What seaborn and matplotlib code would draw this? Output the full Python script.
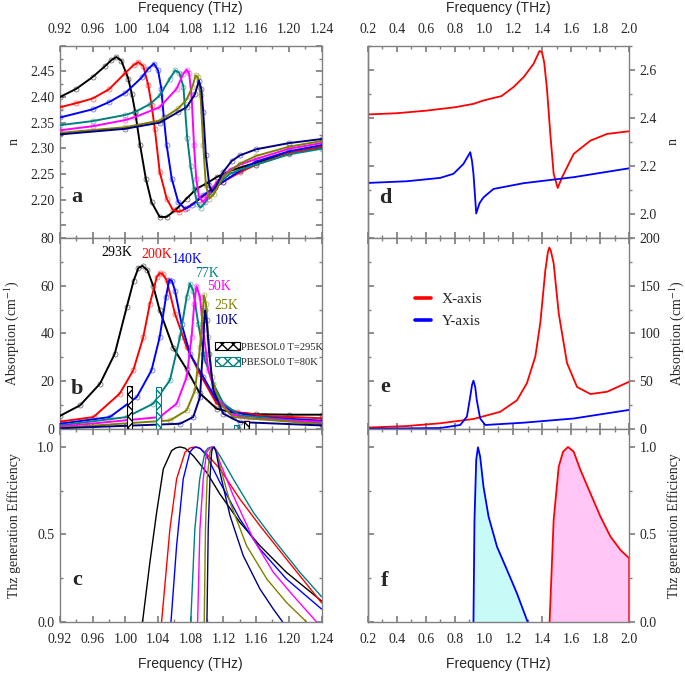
import numpy as np
import pandas as pd
import matplotlib
matplotlib.use("Agg")
import matplotlib.pyplot as plt
import seaborn as sns
from matplotlib.patches import Patch
from matplotlib.lines import Line2D
from matplotlib.ticker import MultipleLocator, FormatStrFormatter, FuncFormatter

# === data ===
temps = ["293K", "200K", "140K", "77K", "50K", "25K", "10K"]
t_colors = ["#000000", "#ff0000", "#0000ff", "#008080", "#ff00ff", "#808000", "#000080"]

# --- (a) refractive index vs temperature ---
na_293_f = [0.92, 0.94, 0.96, 0.975, 0.983, 0.989, 0.995, 1.0035, 1.008, 1.012, 1.018, 1.025, 1.032, 1.042, 1.0505, 1.063, 1.075, 1.087, 1.100, 1.112, 1.13, 1.16, 1.20, 1.24]
na_293 = [2.400, 2.416, 2.439, 2.460, 2.472, 2.478, 2.471, 2.436, 2.405, 2.371, 2.306, 2.241, 2.195, 2.166, 2.166, 2.182, 2.202, 2.221, 2.232, 2.244, 2.257, 2.272, 2.290, 2.302]
na_200_f = [0.92, 0.94, 0.96, 0.98, 1.00, 1.01, 1.016, 1.022, 1.028, 1.032, 1.036, 1.042, 1.0505, 1.058, 1.066, 1.075, 1.09, 1.105, 1.12, 1.14, 1.16, 1.20, 1.24]
na_200 = [2.380, 2.388, 2.397, 2.415, 2.447, 2.462, 2.468, 2.460, 2.423, 2.385, 2.338, 2.254, 2.202, 2.180, 2.176, 2.183, 2.200, 2.218, 2.235, 2.253, 2.268, 2.290, 2.303]
na_140_f = [0.92, 0.96, 0.98, 1.00, 1.02, 1.028, 1.035, 1.040, 1.044, 1.047, 1.0505, 1.0567, 1.0647, 1.073, 1.082, 1.095, 1.11, 1.12, 1.14, 1.16, 1.20, 1.24]
na_140 = [2.360, 2.376, 2.390, 2.408, 2.438, 2.455, 2.465, 2.452, 2.416, 2.360, 2.306, 2.241, 2.195, 2.182, 2.190, 2.208, 2.225, 2.235, 2.256, 2.274, 2.294, 2.306]
na_77_f = [0.92, 0.96, 1.00, 1.012, 1.03, 1.042, 1.0545, 1.061, 1.066, 1.071, 1.0757, 1.0798, 1.084, 1.088, 1.092, 1.098, 1.1075, 1.12, 1.128, 1.14, 1.16, 1.20, 1.24]
na_77 = [2.345, 2.353, 2.365, 2.371, 2.386, 2.403, 2.436, 2.452, 2.447, 2.420, 2.320, 2.265, 2.221, 2.192, 2.184, 2.195, 2.221, 2.240, 2.250, 2.258, 2.268, 2.288, 2.299]
na_50_f = [0.92, 0.96, 1.00, 1.012, 1.042, 1.0627, 1.0708, 1.075, 1.078, 1.081, 1.084, 1.0867, 1.090, 1.0953, 1.10, 1.1117, 1.128, 1.14, 1.16, 1.20, 1.24]
na_50 = [2.335, 2.343, 2.355, 2.361, 2.380, 2.416, 2.445, 2.453, 2.446, 2.403, 2.306, 2.241, 2.205, 2.195, 2.205, 2.234, 2.258, 2.268, 2.279, 2.299, 2.310]
na_25_f = [0.92, 1.00, 1.042, 1.065, 1.075, 1.082, 1.086, 1.089, 1.092, 1.0953, 1.0985, 1.1027, 1.108, 1.12, 1.14, 1.16, 1.20, 1.24]
na_25 = [2.330, 2.341, 2.354, 2.378, 2.395, 2.420, 2.442, 2.438, 2.403, 2.306, 2.228, 2.202, 2.210, 2.245, 2.270, 2.285, 2.303, 2.314]
na_10_f = [0.92, 1.00, 1.042, 1.065, 1.075, 1.085, 1.090, 1.093, 1.0953, 1.0985, 1.1027, 1.1055, 1.110, 1.1198, 1.13, 1.14, 1.16, 1.20, 1.24]
na_10 = [2.327, 2.338, 2.350, 2.371, 2.380, 2.405, 2.432, 2.415, 2.371, 2.286, 2.228, 2.215, 2.224, 2.254, 2.275, 2.286, 2.298, 2.310, 2.318]

# --- (b) absorption vs temperature ---
ab_293_f = [0.92, 0.9445, 0.969, 0.987, 1.0016, 1.010, 1.016, 1.021, 1.027, 1.034, 1.042, 1.0586, 1.075, 1.091, 1.1117, 1.13, 1.16, 1.20, 1.24]
ab_293 = [5.5, 9.9, 19.0, 31.5, 51.0, 62.0, 67.5, 68.3, 66.5, 60.0, 49.7, 34.0, 25.0, 15.0, 8.5, 7.0, 6.2, 6.0, 6.0]
ab_200_f = [0.92, 0.961, 0.993, 1.0097, 1.0219, 1.030, 1.0383, 1.042, 1.046, 1.0505, 1.0607, 1.075, 1.0913, 1.1117, 1.136, 1.17, 1.24]
ab_200 = [3.1, 5.0, 14.8, 24.6, 38.5, 52.5, 63.5, 65.3, 64.8, 62.3, 48.3, 34.3, 23.0, 10.6, 7.1, 5.5, 4.5]
ab_140_f = [0.92, 0.981, 1.014, 1.032, 1.042, 1.0497, 1.0537, 1.057, 1.0607, 1.0688, 1.079, 1.0953, 1.1117, 1.132, 1.1646, 1.24]
ab_140 = [2.2, 5.0, 13.4, 24.6, 38.5, 55.3, 62.5, 62.0, 58.0, 44.0, 31.5, 21.8, 12.0, 7.1, 5.0, 3.5]
ab_77_f = [0.92, 1.0015, 1.034, 1.0545, 1.0668, 1.075, 1.079, 1.083, 1.0892, 1.0974, 1.1076, 1.12, 1.14, 1.24]
ab_77 = [1.5, 5.0, 10.6, 20.4, 38.5, 55.3, 60.9, 58.0, 44.0, 28.8, 19.0, 10.6, 5.7, 2.5]
ab_50_f = [0.92, 1.042, 1.0627, 1.075, 1.081, 1.0843, 1.087, 1.0913, 1.0953, 1.1015, 1.1117, 1.128, 1.148, 1.24]
ab_50 = [1.0, 5.0, 10.6, 21.8, 38.5, 52.5, 59.8, 55.3, 41.3, 24.6, 13.4, 6.4, 4.5, 3.0]
ab_25_f = [0.92, 1.0545, 1.075, 1.0852, 1.0913, 1.0945, 1.0962, 1.0986, 1.1015, 1.1055, 1.1157, 1.132, 1.24]
ab_25 = [0.5, 3.6, 7.8, 16.2, 34.3, 48.3, 56.0, 52.5, 38.5, 21.8, 10.6, 5.0, 2.0]
ab_10_f = [0.92, 1.0668, 1.083, 1.0913, 1.0945, 1.0966, 1.0974, 1.0994, 1.1027, 1.1076, 1.1198, 1.140, 1.24]
ab_10 = [0.3, 2.2, 5.0, 13.4, 31.5, 45.5, 49.7, 45.5, 31.5, 16.2, 6.4, 2.9, 1.5]

# PBESOL0 calculated modes (bars)
bar295_f = [1.0046, 1.148]
bar295_h = [18.0, 3.2]
bar80_f = [1.0403, 1.1355]
bar80_h = [17.6, 1.5]

# --- (c) THz generation efficiency ---
ef_293_f = [1.021, 1.030, 1.0383, 1.0464, 1.0566, 1.062, 1.0668, 1.073, 1.083, 1.0994, 1.1157, 1.140, 1.1646, 1.197, 1.24]
ef_293 = [0.0, 0.341, 0.627, 0.874, 0.979, 0.995, 1.0, 0.993, 0.95, 0.855, 0.731, 0.57, 0.436, 0.284, 0.12]
ef_200_f = [1.0443, 1.0545, 1.0627, 1.073, 1.079, 1.085, 1.091, 1.0994, 1.1157, 1.140, 1.1646, 1.197, 1.24]
ef_200 = [0.0, 0.531, 0.817, 0.97, 0.994, 1.0, 0.993, 0.96, 0.874, 0.703, 0.55, 0.36, 0.11]
ef_140_f = [1.0558, 1.0627, 1.0708, 1.079, 1.083, 1.087, 1.092, 1.0994, 1.1157, 1.140, 1.1646, 1.197, 1.24]
ef_140 = [0.0, 0.436, 0.817, 0.97, 0.993, 1.0, 0.99, 0.95, 0.798, 0.589, 0.417, 0.246, 0.074]
ef_77_f = [1.080, 1.085, 1.091, 1.0973, 1.101, 1.1055, 1.110, 1.1157, 1.132, 1.1565, 1.181, 1.2135, 1.24]
ef_77 = [0.0, 0.531, 0.817, 0.97, 0.993, 1.0, 0.99, 0.95, 0.817, 0.627, 0.474, 0.284, 0.145]
ef_50_f = [1.0884, 1.0912, 1.0953, 1.0994, 1.104, 1.1075, 1.111, 1.1157, 1.132, 1.1565, 1.181, 1.2054, 1.234]
ef_50 = [0.0, 0.531, 0.817, 0.97, 0.995, 1.0, 0.985, 0.912, 0.722, 0.474, 0.284, 0.150, 0.0]
ef_25_f = [1.0965, 1.098, 1.100, 1.1035, 1.106, 1.1084, 1.111, 1.1157, 1.128, 1.1483, 1.173, 1.197, 1.2217]
ef_25 = [0.0, 0.531, 0.817, 0.97, 0.995, 1.0, 0.98, 0.893, 0.684, 0.436, 0.246, 0.112, 0.0]
ef_10_f = [1.0998, 1.1014, 1.1035, 1.1055, 1.107, 1.1088, 1.111, 1.1157, 1.128, 1.1442, 1.1646, 1.181, 1.1925]
ef_10 = [0.0, 0.531, 0.817, 0.97, 0.995, 1.0, 0.97, 0.855, 0.608, 0.379, 0.189, 0.074, 0.0]

# --- (d) calculated refractive index, X / Y axis ---
nx_f = [0.2, 0.4, 0.607, 0.802, 0.928, 0.997, 1.09, 1.12, 1.204, 1.273, 1.342, 1.365, 1.383, 1.40, 1.415, 1.434, 1.457, 1.48, 1.508, 1.538, 1.618, 1.733, 1.848, 2.0]
nx = [2.414, 2.419, 2.430, 2.444, 2.458, 2.472, 2.486, 2.490, 2.528, 2.569, 2.625, 2.655, 2.678, 2.672, 2.63, 2.52, 2.333, 2.167, 2.108, 2.153, 2.25, 2.305, 2.333, 2.344]
ny_f = [0.2, 0.469, 0.699, 0.79, 0.859, 0.885, 0.906, 0.918, 0.928, 0.947, 0.97, 0.997, 1.066, 1.273, 1.618, 2.0]
ny = [2.129, 2.136, 2.150, 2.167, 2.208, 2.235, 2.257, 2.22, 2.167, 2.002, 2.045, 2.069, 2.104, 2.128, 2.153, 2.19]

# --- (e) calculated absorption ---
absx_f = [0.2, 0.469, 0.699, 0.928, 1.112, 1.227, 1.296, 1.354, 1.388, 1.423, 1.44, 1.45, 1.46, 1.48, 1.515, 1.572, 1.641, 1.733, 1.848, 2.0]
absx = [1.5, 3.1, 6.0, 10.5, 18.0, 30.0, 48.0, 76.0, 111.0, 166.5, 185.0, 190.0, 187.0, 173.5, 121.0, 69.0, 44.0, 36.6, 39.0, 49.5]
absy_f = [0.2, 0.699, 0.837, 0.883, 0.906, 0.918, 0.928, 0.94, 0.951, 0.974, 1.009, 1.273, 1.618, 2.0]
absy = [0.3, 1.0, 4.2, 13.0, 34.0, 46.0, 50.6, 44.0, 30.0, 11.0, 4.2, 6.6, 11.0, 20.0]

# --- (f) calculated THz generation efficiency ---
gy_f = [0.928, 0.935, 0.947, 0.959, 0.974, 0.997, 1.032, 1.09, 1.159, 1.227, 1.301]
gy = [0.0, 0.583, 0.926, 0.998, 0.945, 0.773, 0.602, 0.43, 0.297, 0.164, 0.0]
gx_f = [1.452, 1.48, 1.515, 1.545, 1.579, 1.618, 1.664, 1.733, 1.802, 1.871, 1.94, 2.0, 2.0]
gx = [0.0, 0.583, 0.888, 0.973, 1.0, 0.973, 0.869, 0.735, 0.602, 0.488, 0.411, 0.364, 0.0]

n_curves = [(na_293_f, na_293), (na_200_f, na_200), (na_140_f, na_140), (na_77_f, na_77),
            (na_50_f, na_50), (na_25_f, na_25), (na_10_f, na_10)]
ab_curves = [(ab_293_f, ab_293), (ab_200_f, ab_200), (ab_140_f, ab_140), (ab_77_f, ab_77),
             (ab_50_f, ab_50), (ab_25_f, ab_25), (ab_10_f, ab_10)]
ef_curves = [(ef_293_f, ef_293), (ef_200_f, ef_200), (ef_140_f, ef_140), (ef_77_f, ef_77),
             (ef_50_f, ef_50), (ef_25_f, ef_25), (ef_10_f, ef_10)]

# === style ===
sns.set_theme(style="ticks")
plt.rcParams["font.family"] = ["Liberation Serif", "DejaVu Serif"]
plt.rcParams["mathtext.fontset"] = "stix"
plt.rcParams["axes.linewidth"] = 1.0
plt.rcParams["axes.edgecolor"] = "#808080"
GRAY = "#808080"
FS = 10

fig = plt.figure(figsize=(6.85, 6.74), dpi=100)
L, R, W = 60 / 685, 367.7 / 685, 261.5 / 685
rows = [(0.6469, 0.2853), (0.3635, 0.2834), (0.0772, 0.2864)]
p_a, p_b, p_c = [fig.add_axes([L, b, W, h]) for b, h in rows]
p_d, p_e, p_f = [fig.add_axes([R, b, W, h]) for b, h in rows]


def style_x(ax, left_col, where):
    if left_col:
        ax.set_xlim(0.92, 1.24)
        ax.xaxis.set_major_locator(MultipleLocator(0.04))
        ax.xaxis.set_minor_locator(MultipleLocator(0.02))
        ax.xaxis.set_major_formatter(FormatStrFormatter("%.2f"))
    else:
        ax.set_xlim(0.2, 2.0)
        ax.xaxis.set_major_locator(MultipleLocator(0.2))
        ax.xaxis.set_minor_locator(MultipleLocator(0.1))
        ax.xaxis.set_major_formatter(FormatStrFormatter("%.1f"))
    ax.tick_params(axis="x", which="both", direction="in", top=True, bottom=True,
                   labeltop=(where == "top"), labelbottom=(where == "bottom"),
                   color=GRAY, labelsize=FS, pad=(8 if where == "bottom" else 7))
    ax.tick_params(axis="x", which="major", length=4.5)
    ax.tick_params(axis="x", which="minor", length=2.5)
    if where == "top":
        ax.xaxis.set_label_position("top")
        ax.set_xlabel("Frequency (THz)", family=["Liberation Sans"], fontsize=FS, labelpad=8)
    elif where == "bottom":
        ax.set_xlabel("Frequency (THz)", family=["Liberation Sans"], fontsize=FS, labelpad=8)
    else:
        ax.set_xlabel("")


def style_y(ax, lim, maj, mnr, fmt, label, left_col, shown):
    ax.set_ylim(*lim)
    ax.yaxis.set_major_locator(MultipleLocator(maj))
    ax.yaxis.set_minor_locator(MultipleLocator(mnr))
    lo, hi = shown
    ax.yaxis.set_major_formatter(
        FuncFormatter(lambda v, p: (fmt % v) if lo - 1e-6 <= v <= hi + 1e-6 else ""))
    ax.set_ylabel(label, fontsize=FS)
    if left_col:
        ax.tick_params(axis="y", which="both", direction="in", left=True, right=True,
                       color=GRAY, labelsize=FS, pad=4)
        ax.tick_params(axis="y", which="major", length=4.5)
        ax.tick_params(axis="y", which="minor", length=2.5)
        ax.yaxis.set_label_coords(-0.15, 0.5)
    else:
        ax.tick_params(axis="y", which="both", direction="out", left=False, right=True,
                       labelleft=False, labelright=True, color=GRAY, labelsize=FS, pad=3)
        ax.tick_params(axis="y", which="major", length=4.5)
        ax.tick_params(axis="y", which="minor", length=2.5)
        ax.yaxis.set_label_position("right")
        ax.yaxis.set_label_coords(1.145, 0.5)
        sec = ax.secondary_yaxis("left")
        sec.yaxis.set_major_locator(MultipleLocator(maj))
        sec.yaxis.set_minor_locator(MultipleLocator(mnr))
        sec.tick_params(which="both", direction="in", labelleft=False, color=GRAY)
        sec.tick_params(which="major", length=4.5)
        sec.tick_params(which="minor", length=2.5)
        sec.spines["left"].set_color(GRAY)


def panel_letter(ax, s, y):
    ax.text(0.066, y, s, transform=ax.transAxes, ha="center", va="center",
            fontsize=16, fontweight="bold")


# === (a) ===
for (xf, yv), c in zip(n_curves, t_colors):
    p_a.plot(xf, yv, "o", ms=3.6, mfc="none", mec=c, mew=0.6, alpha=0.55, zorder=2)
    sns.lineplot(x=xf, y=yv, ax=p_a, color=c, lw=1.4, sort=False, estimator=None, zorder=3)
style_x(p_a, True, "top")
style_y(p_a, (2.125, 2.50), 0.05, 0.025, "%.2f", "n", True, (2.2, 2.45))
panel_letter(p_a, "a", 0.215)

# === (b) ===
for (xf, yv), c in zip(ab_curves, t_colors):
    p_b.plot(xf, yv, "o", ms=3.6, mfc="none", mec=c, mew=0.6, alpha=0.55, zorder=2)
    sns.lineplot(x=xf, y=yv, ax=p_b, color=c, lw=1.4, sort=False, estimator=None, zorder=3)
p_b.bar(bar295_f, bar295_h, width=0.006, color="white", edgecolor="black", hatch="xxx",
        lw=0.8, zorder=4)
p_b.bar(bar80_f, bar80_h, width=0.006, color="white", edgecolor="#008080", hatch="xxx",
        lw=0.8, zorder=4)
t_pos = [(0.990, 74.0), (1.039, 73.0), (1.076, 70.8), (1.0995, 65.3), (1.115, 59.5),
         (1.1235, 51.8), (1.124, 45.5)]
for t, c, (tx, ty) in zip(temps, t_colors, t_pos):
    p_b.text(tx, ty, t, color=c, fontsize=FS, ha="center", va="center")
hb = [Patch(facecolor="white", edgecolor="black", hatch="xxx", lw=0.8),
      Patch(facecolor="white", edgecolor="#008080", hatch="xxx", lw=0.8)]
p_b.legend(hb, ["PBESOL0 T=295K", "PBESOL0 T=80K"], loc="center left",
           bbox_to_anchor=(0.568, 0.39), frameon=False, fontsize=7.6,
           handlelength=2.4, handleheight=0.9, handletextpad=0.12, labelspacing=0.55,
           borderpad=0.1)
style_x(p_b, True, "none")
style_y(p_b, (0, 80), 20, 10, "%d", "Absorption (cm$^{-1}$)", True, (0, 80))
panel_letter(p_b, "b", 0.21)

# === (c) ===
for (xf, yv), c in zip(ef_curves, t_colors):
    sns.lineplot(x=xf, y=yv, ax=p_c, color=c, lw=1.0, sort=False, estimator=None)
style_x(p_c, True, "bottom")
style_y(p_c, (0, 1.103), 0.5, 0.25, "%.1f", "Thz generation Efficiency", True, (0, 1.0))
panel_letter(p_c, "c", 0.218)

# === (d) ===
sns.lineplot(x=nx_f, y=nx, ax=p_d, color="#ff0000", lw=1.3, sort=False, estimator=None)
sns.lineplot(x=ny_f, y=ny, ax=p_d, color="#0000ff", lw=1.3, sort=False, estimator=None)
style_x(p_d, False, "top")
style_y(p_d, (1.9, 2.7), 0.2, 0.1, "%.1f", "n", False, (2.0, 2.6))
panel_letter(p_d, "d", 0.208)

# === (e) ===
sns.lineplot(x=absx_f, y=absx, ax=p_e, color="#ff0000", lw=1.3, sort=False, estimator=None)
sns.lineplot(x=absy_f, y=absy, ax=p_e, color="#0000ff", lw=1.3, sort=False, estimator=None)
he = [Line2D([], [], color="#ff0000", lw=2.6), Line2D([], [], color="#0000ff", lw=2.6)]
p_e.legend(he, ["X-axis", "Y-axis"], loc="center left", bbox_to_anchor=(0.13, 0.62),
           frameon=False, fontsize=11, handlelength=1.0, handletextpad=0.7,
           labelspacing=0.55)
style_x(p_e, False, "none")
style_y(p_e, (0, 200), 50, 25, "%d", "Absorption (cm$^{-1}$)", False, (0, 200))
panel_letter(p_e, "e", 0.22)

# === (f) ===
p_f.fill_between(gy_f, gy, 0, color="#c8fbf8", lw=0)
p_f.fill_between(gx_f, gx, 0, color="#ffc6f6", lw=0)
sns.lineplot(x=gy_f, y=gy, ax=p_f, color="#0000ff", lw=1.3, sort=False, estimator=None)
sns.lineplot(x=gx_f, y=gx, ax=p_f, color="#ff0000", lw=1.3, sort=False, estimator=None)
style_x(p_f, False, "bottom")
style_y(p_f, (0, 1.103), 0.5, 0.25, "%.1f", "Thz generation Efficiency", False, (0, 1.0))
panel_letter(p_f, "f", 0.21)

for ax in [p_a, p_b, p_c, p_d, p_e, p_f]:
    for sp in ax.spines.values():
        sp.set_color(GRAY)
        sp.set_linewidth(1.0)

fig.savefig("out.png", dpi=100)
